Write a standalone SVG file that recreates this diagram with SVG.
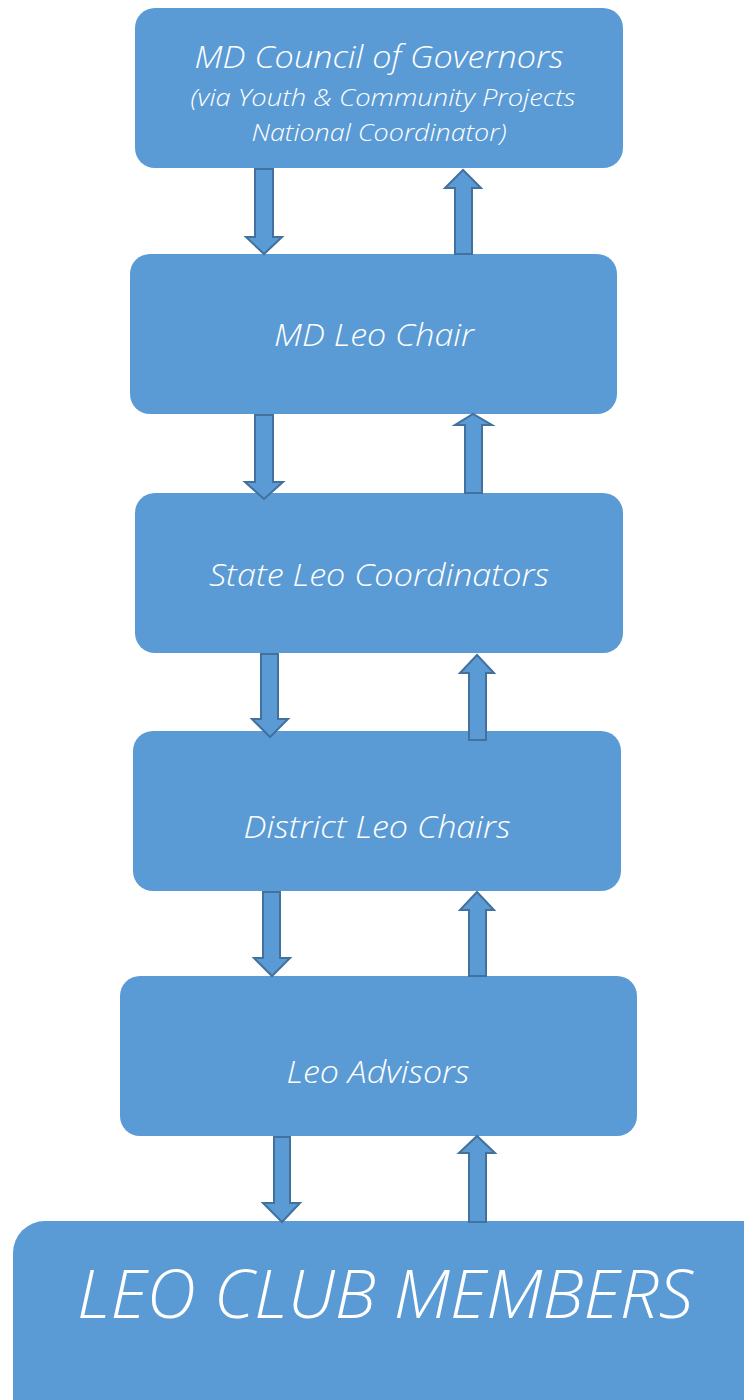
<svg xmlns="http://www.w3.org/2000/svg" width="744" height="1400" viewBox="0 0 744 1400">
<style>
.box{fill:#5B9BD5}
.arr{fill:#5B9BD5;stroke:#41719C;stroke-width:2;stroke-linejoin:miter}
.t{fill:#FFFFFF;font-family:"Open Sans","Liberation Sans",sans-serif;font-style:italic;font-weight:300;text-anchor:middle}
</style>
<rect width="744" height="1400" fill="#FFFFFF"/>
<g id="n1">
<rect class="box" x="135" y="8" width="488" height="160" rx="20"/>
<text class="t" x="379" y="68" font-size="32" textLength="369" lengthAdjust="spacingAndGlyphs">MD Council of Governors</text>
<text class="t" x="383" y="106" font-size="23.5" textLength="385" lengthAdjust="spacingAndGlyphs">(via Youth &amp; Community Projects</text>
<text class="t" x="379" y="141" font-size="23.5" textLength="255" lengthAdjust="spacingAndGlyphs">National Coordinator)</text>
</g>
<g id="n2">
<rect class="box" x="130" y="254" width="487" height="160" rx="20"/>
<text class="t" x="374" y="346" font-size="32" textLength="200" lengthAdjust="spacingAndGlyphs">MD Leo Chair</text>
</g>
<g id="n3">
<rect class="box" x="135" y="493" width="488" height="160" rx="20"/>
<text class="t" x="379" y="586" font-size="32" textLength="340" lengthAdjust="spacingAndGlyphs">State Leo Coordinators</text>
</g>
<g id="n4">
<rect class="box" x="133" y="731" width="488" height="160" rx="20"/>
<text class="t" x="377" y="838" font-size="32" textLength="267" lengthAdjust="spacingAndGlyphs">District Leo Chairs</text>
</g>
<g id="n5">
<rect class="box" x="120" y="976" width="517" height="160" rx="20"/>
<text class="t" x="378" y="1083" font-size="32" textLength="183" lengthAdjust="spacingAndGlyphs">Leo Advisors</text>
</g>
<g id="n6">
<rect class="box" x="13" y="1221" width="780" height="220" rx="32"/>
<text class="t" x="385" y="1318" font-size="66" textLength="616" lengthAdjust="spacingAndGlyphs">LEO CLUB MEMBERS</text>
</g>
<g id="connectors">
<path class="arr" d="M255,169 L273,169 L273,237 L282,237 L264,254 L246,237 L255,237 Z"/>
<path class="arr" d="M455,254 L472,254 L472,188 L481,188 L463,170 L445,188 L455,188 Z"/>
<path class="arr" d="M255,415 L273,415 L273,482 L283,482 L264,499 L245,482 L255,482 Z"/>
<path class="arr" d="M465,493 L482,493 L482,425 L492,425 L473,414 L455,425 L465,425 Z"/>
<path class="arr" d="M261,654 L278,654 L278,719 L288,719 L270,737 L252,719 L261,719 Z"/>
<path class="arr" d="M469,740 L486,740 L486,673 L494,673 L477,655 L460,673 L469,673 Z"/>
<path class="arr" d="M263,892 L280,892 L280,958 L290,958 L272,976 L254,958 L263,958 Z"/>
<path class="arr" d="M469,976 L486,976 L486,910 L494,910 L477,892 L460,910 L469,910 Z"/>
<path class="arr" d="M274,1137 L290,1137 L290,1203 L300,1203 L282,1222 L263,1203 L274,1203 Z"/>
<path class="arr" d="M469,1222 L486,1222 L486,1153 L495,1153 L477,1136 L459,1153 L469,1153 Z"/>
</g>
</svg>
